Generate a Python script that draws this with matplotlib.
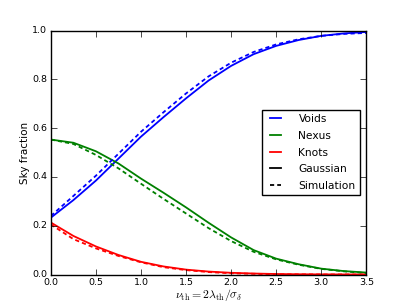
import matplotlib
matplotlib.use('Agg')
import matplotlib.pyplot as plt
from matplotlib.lines import Line2D

plt.style.use('classic')
plt.rcParams['font.size'] = 6.8
plt.rcParams['mathtext.fontset'] = 'cm'
plt.rcParams['xtick.major.pad'] = 2.5
plt.rcParams['ytick.major.pad'] = 2.5

nu = [0.0, 0.25, 0.5, 0.75, 1.0, 1.25, 1.5, 1.75, 2.0, 2.25, 2.5, 2.75, 3.0, 3.25, 3.5]

# gaussian prediction
voids_g = [0.233, 0.305, 0.385, 0.475, 0.565, 0.645, 0.722, 0.795, 0.855, 0.903, 0.937, 0.961, 0.978, 0.988, 0.994]
nexus_g = [0.553, 0.540, 0.505, 0.455, 0.393, 0.335, 0.275, 0.212, 0.152, 0.100, 0.065, 0.042, 0.024, 0.014, 0.008]
knots_g = [0.213, 0.158, 0.115, 0.080, 0.052, 0.033, 0.020, 0.012, 0.007, 0.004, 0.002, 0.001, 0.0005, 0.0002, 0.0001]

# simulation
voids_s = [0.240, 0.322, 0.405, 0.495, 0.585, 0.665, 0.742, 0.812, 0.868, 0.912, 0.943, 0.964, 0.978, 0.986, 0.990]
nexus_s = [0.553, 0.535, 0.490, 0.435, 0.372, 0.310, 0.250, 0.190, 0.137, 0.093, 0.062, 0.040, 0.023, 0.013, 0.006]
knots_s = [0.205, 0.145, 0.107, 0.076, 0.050, 0.030, 0.018, 0.010, 0.005, 0.003, 0.001, 0.0005, 0.0002, 0.0001, 0.0]

fig = plt.figure(figsize=(4.07, 3.05), dpi=100)
ax = fig.add_subplot(111)

lw = 1.3
dash = (0, (3.0, 2.2))
ax.plot(nu, voids_g, color='b', lw=lw)
ax.plot(nu, nexus_g, color='g', lw=lw)
ax.plot(nu, knots_g, color='r', lw=lw)
ax.plot(nu, voids_s, color='b', lw=lw, ls=dash)
ax.plot(nu, nexus_s, color='g', lw=lw, ls=dash)
ax.plot(nu, knots_s, color='r', lw=lw, ls=dash)

ax.set_xlim(0, 3.5)
ax.set_ylim(0, 1)
ax.set_xlabel(r'$\nu_{\rm th} = 2\lambda_{\rm th}/\sigma_\delta$', fontsize=8.5, labelpad=0)
ax.set_ylabel('Sky fraction', fontsize=7.5, labelpad=2)

handles = [Line2D([], [], color='b', lw=lw),
           Line2D([], [], color='g', lw=lw),
           Line2D([], [], color='r', lw=lw),
           Line2D([], [], color='k', lw=lw),
           Line2D([], [], color='k', lw=lw, ls=dash)]
ax.legend(handles, ['Voids', 'Nexus', 'Knots', 'Gaussian', 'Simulation'],
          loc='center right', fontsize=7.7, handlelength=1.7, handletextpad=1.3,
          labelspacing=0.62, borderaxespad=0.6)

fig.savefig('out.png', dpi=100)
